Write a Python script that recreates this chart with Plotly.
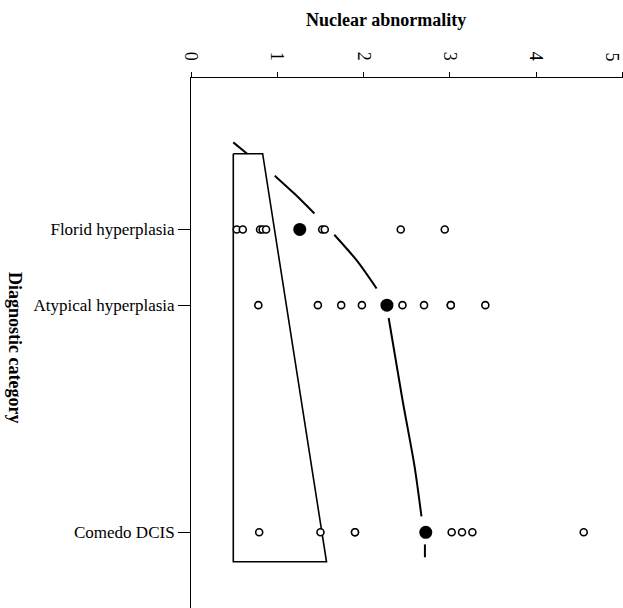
import plotly.graph_objects as go

# ---- data ----
categories = ["Florid hyperplasia", "Atypical hyperplasia", "Comedo DCIS"]
category_pos = [1, 2, 5]

florid_vals = [0.53, 0.60, 0.80, 0.83, 0.87, 1.52, 1.55, 2.43, 2.94]
atypical_vals = [0.78, 1.47, 1.74, 1.98, 2.45, 2.70, 3.01, 3.01, 3.41]
comedo_vals = [0.79, 1.50, 1.90, 1.90, 3.02, 3.14, 3.26, 4.55]
means = [1.26, 2.27, 2.72]

# fitted trend curve (dashed, gaps as drawn)
curve_x = [0.49, 0.65, None, 0.97, 1.20, 1.43, None, 1.66, 1.92, 2.15, None,
           2.29, 2.45, 2.59, 2.67, None, 2.71, 2.71]
curve_y = [-0.15, 0.0, None, 0.29, 0.53, 0.79, None, 1.07, 1.41, 1.78, None,
           2.17, 3.25, 4.13, 4.79, None, 5.16, 5.33]

# reference band (trapezoid)
band_x = [0.49, 0.83, 1.57, 0.49, 0.49]
band_y = [0.0, 0.0, 5.39, 5.39, 0.0]

x_ticks = [0, 1, 2, 3, 4, 5]
x_tick_labels = ["0", "1", "2", "3", "4", "5"]

FONT = "Liberation Serif"

fig = go.Figure()

fig.add_trace(go.Scatter(x=band_x, y=band_y, mode="lines",
                         line=dict(color="black", width=1.6), hoverinfo="skip"))
fig.add_trace(go.Scatter(x=curve_x, y=curve_y, mode="lines",
                         line=dict(color="black", width=2, shape="spline",
                                   smoothing=0.8),
                         connectgaps=False, hoverinfo="skip"))

groups = [florid_vals, atypical_vals, comedo_vals]
for vals, pos in zip(groups, category_pos):
    fig.add_trace(go.Scatter(
        x=vals, y=[pos] * len(vals), mode="markers",
        marker=dict(symbol="circle", size=7, color="white",
                    line=dict(color="black", width=1.6))))

fig.add_trace(go.Scatter(
    x=means, y=category_pos, mode="markers",
    marker=dict(symbol="circle", size=13, color="black",
                line=dict(color="black", width=0))))

# last tick label sits on the page edge: draw it as an annotation nudged inwards
shown_labels = x_tick_labels[:-1] + [""]

fig.update_layout(
    width=623, height=608,
    margin=dict(l=191, r=0, t=78, b=0, autoexpand=False),
    paper_bgcolor="white", plot_bgcolor="white",
    showlegend=False,
    font=dict(family=FONT, color="black", size=17),
    xaxis=dict(range=[0, 5.005], side="top", tickvals=x_ticks,
               ticktext=shown_labels, tickangle=90,
               ticklabelstandoff=5, automargin=False,
               showline=True, linecolor="black", linewidth=1,
               ticks="outside", ticklen=5, tickcolor="black",
               showgrid=False, zeroline=False,
               tickfont=dict(family=FONT, size=18)),
    yaxis=dict(range=[6, -1], tickvals=category_pos, ticktext=categories,
               automargin=False,
               showline=True, linecolor="black", linewidth=1,
               ticks="outside", ticklen=12, tickcolor="black",
               showgrid=False, zeroline=False,
               tickfont=dict(family=FONT, size=17)),
    annotations=[
        dict(text=x_tick_labels[-1], xref="x", yref="paper",
             x=x_ticks[-1], y=(608 - 57) / 530, showarrow=False,
             textangle=90, xanchor="center", yanchor="middle", xshift=-11,
             borderpad=0,
             font=dict(family=FONT, size=18, color="black")),
        dict(text="<b>Nuclear abnormality</b>", xref="paper", yref="paper",
             x=(386 - 191) / 432, y=(608 - 20) / 530, showarrow=False,
             xanchor="center", yanchor="middle",
             font=dict(family=FONT, size=18, color="black")),
        dict(text="<b>Diagnostic category</b>", xref="paper", yref="paper",
             x=(15 - 191) / 432, y=(608 - 347) / 530, showarrow=False,
             textangle=90, xanchor="center", yanchor="middle",
             font=dict(family=FONT, size=18, color="black")),
    ],
)

fig.write_html("out.html")
